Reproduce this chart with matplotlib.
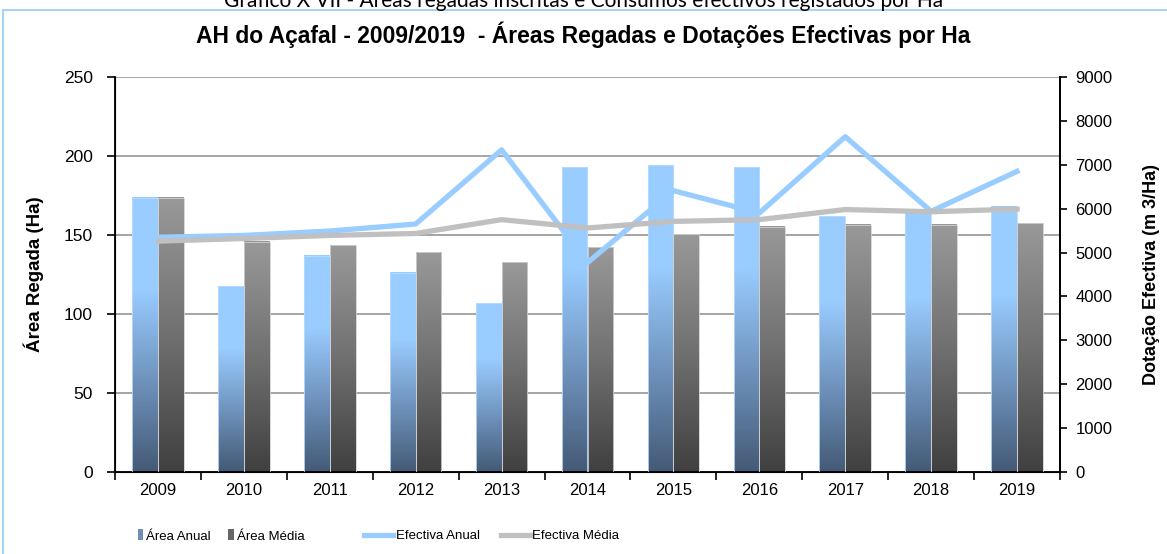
import numpy as np
import matplotlib.pyplot as plt
from matplotlib.colors import LinearSegmentedColormap
from matplotlib.patches import Patch, Rectangle
from matplotlib.lines import Line2D

anos = ["2009", "2010", "2011", "2012", "2013", "2014", "2015", "2016", "2017", "2018", "2019"]
area_anual = [173.6, 117.7, 136.9, 126.1, 106.8, 193.0, 194.3, 193.0, 161.8, 165.0, 168.0]
area_media = [173.6, 145.8, 143.5, 139.0, 132.7, 142.4, 150.6, 155.3, 156.5, 156.5, 157.4]
ef_anual = [5350, 5390, 5490, 5650, 7340, 4770, 6410, 5900, 7640, 5940, 6850]
ef_media = [5260, 5320, 5390, 5435, 5750, 5560, 5710, 5750, 5980, 5930, 5990]

plt.rcParams['font.family'] = ['Liberation Sans', 'DejaVu Sans']

fig = plt.figure(figsize=(11.67, 5.54), dpi=100)
ax = fig.add_axes([115/1167, 1 - 472/554, 945/1167, 395/554])

x = np.arange(len(anos))
w = 0.3
b1 = ax.bar(x - w/2, area_anual, w, facecolor='none', edgecolor='#b8dcff', linewidth=0.6, zorder=3)
b2 = ax.bar(x + w/2, area_media, w, facecolor='none', edgecolor='#d0d0d0', linewidth=0.6, zorder=3)

# gradient fill inside each bar
cm_blue = LinearSegmentedColormap.from_list('b', ['#445a76', '#6f93bd', '#99ccff', '#99ccff'])
cm_grey = LinearSegmentedColormap.from_list('g', ['#404040', '#707070', '#999999'])
grad = np.linspace(0, 1, 256).reshape(-1, 1)
for bars, cm in ((b1, cm_blue), (b2, cm_grey)):
    for p in bars:
        x0, y0, bw, bh = p.get_x(), p.get_y(), p.get_width(), p.get_height()
        ax.imshow(grad, extent=[x0, x0 + bw, y0, y0 + bh], origin='lower',
                  aspect='auto', cmap=cm, zorder=2)

ax.set_xlim(-0.5, len(anos) - 0.5)
ax.set_ylim(0, 250)
ax.set_yticks([0, 50, 100, 150, 200, 250])
ax.yaxis.grid(True, color='#969696', linewidth=1.2)
ax.set_axisbelow(True)
ax.set_xticks(x)
ax.set_xticklabels(anos)
ax.set_xticks(np.arange(-0.5, len(anos)), minor=True)
ax.tick_params(axis='x', which='major', length=0, pad=8, labelsize=12)
ax.tick_params(axis='x', which='minor', length=6, width=1.2, direction='out')
ax.tick_params(axis='y', length=6, width=1.2, labelsize=12.5, pad=10)
ax.spines['top'].set_visible(False)
for s in ('left', 'bottom', 'right'):
    ax.spines[s].set_linewidth(1.3)

ax2 = ax.twinx()
ax2.plot(x, ef_anual, color='#99ccff', linewidth=3.8, zorder=4)
ax2.plot(x, ef_media, color='#c0c0c0', linewidth=3.8, zorder=4)
ax2.set_ylim(0, 9000)
ax2.set_yticks(range(0, 9001, 1000))
ax2.tick_params(axis='y', length=5, width=1.2, labelsize=12, pad=6)
ax2.spines['top'].set_visible(False)
ax2.spines['right'].set_linewidth(1.3)

ax.set_ylabel('Área Regada (Ha)', fontsize=13.5, fontweight='bold', labelpad=14)
ax2.set_ylabel('Dotação Efectiva (m 3/Ha)', fontsize=13, fontweight='bold', labelpad=22)

fig.text(0.5, 1 - 35/554, 'AH do Açafal - 2009/2019  - Áreas Regadas e Dotações Efectivas por Ha',
         ha='center', va='center', fontsize=16.5, fontweight='bold')
fig.text(0.5, 1 - 7/554, 'Gráfico X VII - Áreas regadas inscritas e Consumos efectivos registados por Ha',
         ha='center', va='baseline', fontsize=15, family=['Lato', 'DejaVu Sans'])

fig.patches.append(Rectangle((3/1167, -0.05), 1.1, 1.05 - 10/554, transform=fig.transFigure,
                             fill=False, edgecolor='#a8d2fa', linewidth=1.5))

leg1 = fig.legend([Patch(facecolor='#6f8fb5'), Patch(facecolor='#666666')],
                  ['Área Anual', 'Área Média'], loc='center left',
                  bbox_to_anchor=(126/1167, 1 - 536/554), ncol=2, frameon=False,
                  fontsize=9.5, handlelength=0.4, handleheight=0.9, handletextpad=0.25,
                  columnspacing=1.3)
leg2 = fig.legend([Line2D([], [], color='#99ccff', lw=3.8), Line2D([], [], color='#c0c0c0', lw=3.8)],
                  ['Efectiva Anual', 'Efectiva Média'], loc='center left',
                  bbox_to_anchor=(352/1167, 1 - 536/554), ncol=2, frameon=False,
                  fontsize=9.5, handlelength=2.2, handletextpad=0.2, columnspacing=1.6)

fig.savefig('out.png', dpi=100)
